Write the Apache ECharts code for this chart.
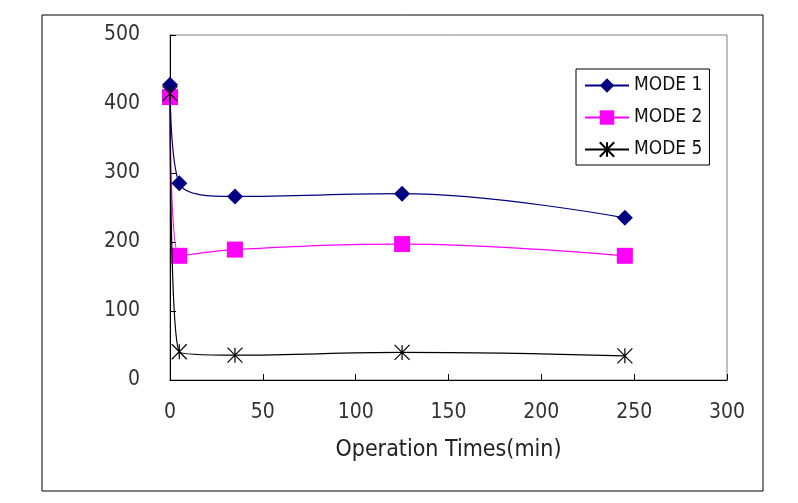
<!DOCTYPE html>
<html><head><meta charset="utf-8">
<script src="https://cdn.jsdelivr.net/npm/echarts@6/dist/echarts.min.js"></script>
<style>html,body{margin:0;padding:0;background:#fff}#c{width:798px;height:503px}</style>
</head><body><div id="c"></div>
<script>
const times = [0, 5, 35, 125, 245];
const mode1 = [428, 285, 266, 270, 235];
const mode2 = [410, 180, 189, 197, 180];
const mode5 = [415, 41, 36, 40, 35];
const xTicks = [0, 50, 100, 150, 200, 250, 300];
const yTicks = [0, 100, 200, 300, 400, 500];
const seriesNames = ['MODE 1', 'MODE 2', 'MODE 5'];

const FONT = '"DejaVu Sans Condensed", "Liberation Sans Narrow", sans-serif';
const pairs = v => times.map((t, i) => [t, v[i]]);
const asterisk = 'path://M0,0L10,10M10,0L0,10M5,0L5,10';

const chart = echarts.init(document.getElementById('c'), null, {renderer: 'canvas'});
chart.setOption({
  animation: false,
  backgroundColor: '#fff',
  graphic: [{
    type: 'rect', shape: {x: 42, y: 15, width: 721, height: 476},
    style: {fill: 'none', stroke: '#000', lineWidth: 1}, z: 0
  }],
  grid: {left: 170, right: 71, top: 35, bottom: 123, show: true, borderColor: '#808080', borderWidth: 1},
  legend: {
    orient: 'vertical', left: 576, top: 69,
    padding: [7, 7, 6, 8], itemGap: 13, itemWidth: 44, itemHeight: 18,
    backgroundColor: '#fff', borderColor: '#000', borderWidth: 1,
    textStyle: {fontFamily: FONT, fontSize: 19, color: '#111'},
    data: seriesNames
  },
  xAxis: {
    type: 'value', min: 0, max: 300, interval: 50,
    name: 'Operation Times(min)', nameLocation: 'middle', nameGap: 59,
    nameTextStyle: {fontFamily: FONT, fontSize: 23, color: '#222'},
    axisLine: {lineStyle: {color: '#000', width: 1}},
    axisTick: {inside: true, length: 6, lineStyle: {color: '#000'}},
    axisLabel: {margin: 22, fontFamily: FONT, fontSize: 21, color: '#333',
      formatter: v => xTicks.includes(v) ? String(v) : ''},
    splitLine: {show: false}
  },
  yAxis: {
    type: 'value', min: 0, max: 500, interval: 100,
    axisLine: {show: true, lineStyle: {color: '#000', width: 1}},
    axisTick: {show: true, inside: true, length: 6, lineStyle: {color: '#000'}},
    axisLabel: {margin: 30, fontFamily: FONT, fontSize: 21, color: '#333',
      formatter: v => yTicks.includes(v) ? String(v) : ''},
    splitLine: {show: false}
  },
  series: [
    {name: seriesNames[0], type: 'line', data: pairs(mode1), smooth: 0.4,
     symbol: 'diamond', symbolSize: 16,
     itemStyle: {color: '#000080'}, lineStyle: {color: '#000080', width: 1.2}, z: 3},
    {name: seriesNames[1], type: 'line', data: pairs(mode2), smooth: 0.4,
     symbol: 'rect', symbolSize: 16,
     itemStyle: {color: '#FF00FF'}, lineStyle: {color: '#FF00FF', width: 1.2}, z: 2},
    {name: seriesNames[2], type: 'line', data: pairs(mode5), smooth: 0.4,
     symbol: asterisk, symbolSize: 15,
     itemStyle: {color: 'rgba(0,0,0,0)', borderColor: '#000', borderWidth: 1.2},
     lineStyle: {color: '#000', width: 1.2}, z: 4}
  ]
});
</script></body></html>
